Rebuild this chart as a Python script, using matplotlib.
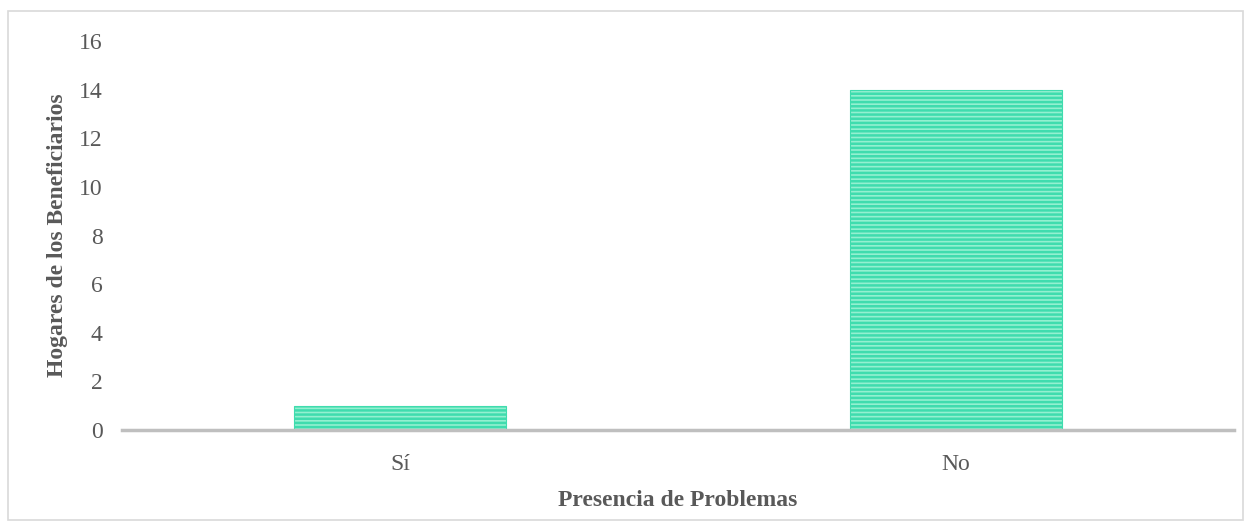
import matplotlib.pyplot as plt
import matplotlib as mpl
from matplotlib.patches import Rectangle

# datos
categorias = ["Sí", "No"]
hogares = [1, 14]
y_ticks = [0, 2, 4, 6, 8, 10, 12, 14, 16]

plt.rcParams['font.family'] = ['Liberation Serif', 'DejaVu Serif']
mpl.rcParams['hatch.linewidth'] = 1.8
mpl.rcParams['hatch.color'] = '#17cf95'

fig = plt.figure(figsize=(12.53, 5.31), dpi=100)
ax = fig.add_axes([122/1253, 1 - 430/531, (1234-122)/1253, (430-41)/531])

x = range(len(categorias))
ax.bar(x, hogares, width=0.38, color='#93f0d0', edgecolor='#3fdcae',
       linewidth=0.8, hatch='----', zorder=2)

ax.set_xlim(-0.5, 1.5)
ax.set_ylim(0, 16)
ax.set_yticks(y_ticks)
ax.set_yticklabels([str(t) for t in y_ticks], fontsize=17, color='#595959')
ax.set_xticks(list(x))
ax.set_xticklabels(categorias, fontsize=17, color='#595959')
ax.tick_params(axis='y', length=0, pad=14)
ax.tick_params(axis='x', length=0, pad=17)

for s in ['top', 'right', 'left']:
    ax.spines[s].set_visible(False)
ax.spines['bottom'].set_color('#bfbfbf')
ax.spines['bottom'].set_linewidth(2.5)
ax.spines['bottom'].set_zorder(3)

ax.set_ylabel("Hogares de los Beneficiarios", fontsize=17, fontweight='bold',
              color='#595959', labelpad=8)
ax.set_xlabel("Presencia de Problemas", fontsize=17, fontweight='bold',
              color='#595959', labelpad=11)

# borde del gráfico
fig.patches.append(Rectangle((8/1253, 1 - 520/531), (1243-8)/1253, (520-11)/531,
                             transform=fig.transFigure, fill=False,
                             edgecolor='#d9d9d9', linewidth=1.2))

fig.savefig("out.png", dpi=100)
